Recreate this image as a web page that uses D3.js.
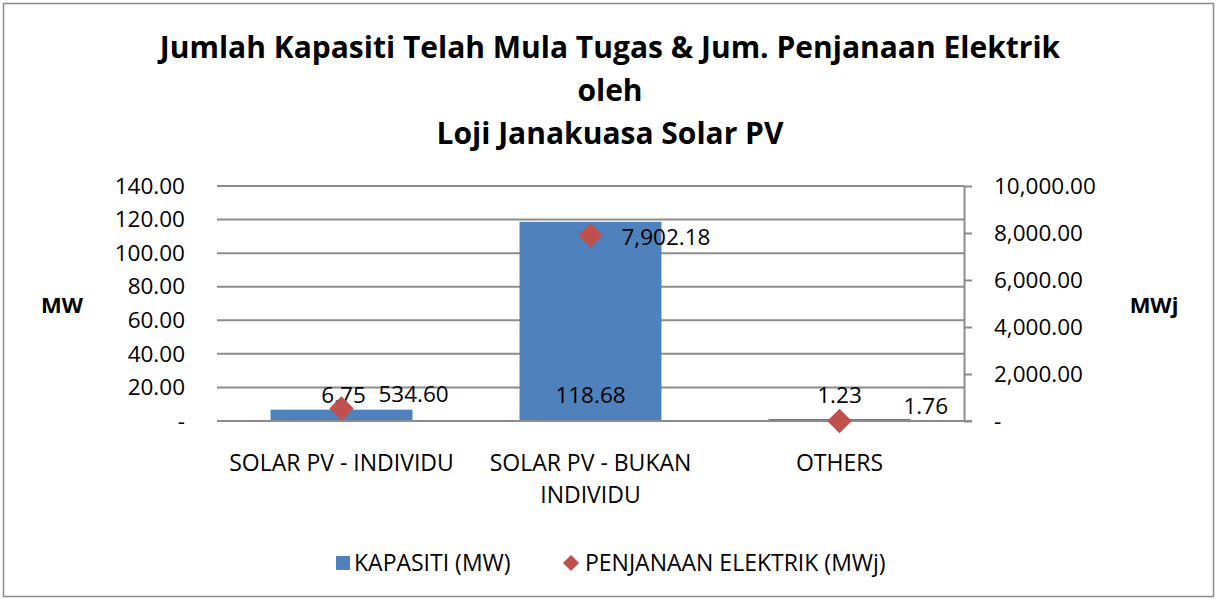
<!DOCTYPE html>
<html>
<head>
<meta charset="utf-8">
<script src="https://d3js.org/d3.v7.min.js"></script>
<style>
  body { margin: 0; background: #fff; }
  text { font-family: "Open Sans", sans-serif; fill: #000; }
</style>
</head>
<body>
<div id="chart"></div>
<script>
// data
var categories = ["SOLAR PV - INDIVIDU", "SOLAR PV - BUKAN INDIVIDU", "OTHERS"];
var categoryLines = [["SOLAR PV - INDIVIDU"], ["SOLAR PV - BUKAN", "INDIVIDU"], ["OTHERS"]];
var kapasiti = [6.75, 118.68, 1.23];
var penjanaan = [534.60, 7902.18, 1.76];
var leftTicks = [0, 20, 40, 60, 80, 100, 120, 140];
var rightTicks = [0, 2000, 4000, 6000, 8000, 10000];
var titleLines = ["Jumlah Kapasiti Telah Mula Tugas & Jum. Penjanaan Elektrik", "oleh", "Loji Janakuasa Solar PV"];
var seriesNames = ["KAPASITI (MW)", "PENJANAAN ELEKTRIK (MWj)"];

var W = 1217, H = 599;
var margin = { top: 186, right: 253, bottom: 178, left: 217 };
var width = W - margin.left - margin.right,
    height = H - margin.top - margin.bottom;

var svg = d3.select("#chart").append("svg")
    .attr("width", W).attr("height", H);

// outer border
svg.append("rect")
    .attr("x", 3.5).attr("y", 3.5)
    .attr("width", W - 7).attr("height", H - 6)
    .attr("fill", "#fff").attr("stroke", "#8c8c8c").attr("stroke-width", 1.5);

// title
svg.append("g").selectAll("text")
    .data(titleLines)
    .enter().append("text")
    .attr("x", 610)
    .attr("y", function (d, i) { return 58 + i * 43; })
    .attr("text-anchor", "middle")
    .style("font-size", "30px")
    .style("font-weight", "bold")
    .text(function (d) { return d; });

var g = svg.append("g")
    .attr("transform", "translate(" + margin.left + "," + margin.top + ")");

var x = d3.scaleBand().domain(categories).range([0, width]).paddingInner(0.43).paddingOuter(0.215);
var xc = d3.scaleBand().domain(categories).range([0, width]);
var yL = d3.scaleLinear().domain([0, 140]).range([height, 0]);
var yR = d3.scaleLinear().domain([0, 10000]).range([height, 0]);

var fmt2 = d3.format(",.2f");
var tickFmt = function (d) { return d === 0 ? "-" : fmt2(d); };

// gridlines
g.append("g").selectAll("line")
    .data(leftTicks.filter(function (d) { return d > 0; }))
    .enter().append("line")
    .attr("x1", 0).attr("x2", width)
    .attr("y1", function (d) { return yL(d); })
    .attr("y2", function (d) { return yL(d); })
    .attr("stroke", "#8c8c8c").attr("stroke-width", 2);

// left axis (labels only)
var leftAxis = g.append("g")
    .call(d3.axisLeft(yL).tickValues(leftTicks).tickFormat(tickFmt).tickSize(0).tickPadding(32));
leftAxis.select(".domain").remove();
leftAxis.selectAll("text").style("font-size", "22.5px").style("font-family", "Open Sans");

// right axis
var rightAxis = g.append("g")
    .attr("transform", "translate(" + width + ",0)")
    .call(d3.axisRight(yR).tickValues(rightTicks).tickFormat(tickFmt).tickSizeOuter(0).tickSizeInner(8).tickPadding(22));
rightAxis.select(".domain").attr("stroke", "#8c8c8c").attr("stroke-width", 2);
rightAxis.selectAll(".tick line").attr("stroke", "#8c8c8c").attr("stroke-width", 2);
rightAxis.selectAll("text").style("font-size", "22.5px").style("font-family", "Open Sans");

// bars
g.append("g").selectAll("rect")
    .data(kapasiti)
    .enter().append("rect")
    .attr("x", function (d, i) { return x(categories[i]); })
    .attr("width", x.bandwidth())
    .attr("y", function (d) { return yL(d); })
    .attr("height", function (d) { return yL(0) - yL(d); })
    .attr("fill", "#4f81bd");

// baseline
g.append("line")
    .attr("x1", 0).attr("x2", width + 8)
    .attr("y1", yL(0)).attr("y2", yL(0))
    .attr("stroke", "#8c8c8c").attr("stroke-width", 2);

// bar labels
g.append("g").selectAll("text")
    .data(kapasiti)
    .enter().append("text")
    .attr("x", function (d, i) { return xc(categories[i]) + xc.bandwidth() / 2 + (i === 0 ? 2 : 0); })
    .attr("y", yL(0) - 18)
    .attr("text-anchor", "middle")
    .style("font-size", "22.5px")
    .text(function (d) { return fmt2(d); });

// diamonds
var diamond = d3.symbol().type(d3.symbolSquare).size(300);
g.append("g").selectAll("path")
    .data(penjanaan)
    .enter().append("path")
    .attr("d", diamond)
    .attr("transform", function (d, i) {
        return "translate(" + (xc(categories[i]) + xc.bandwidth() / 2) + "," + yR(d) + ") rotate(45)";
    })
    .attr("fill", "#c0504d");

// diamond labels
var labelDx = [37, 31, 64];
var labelDy = [-6, 10, -7];
g.append("g").selectAll("text")
    .data(penjanaan)
    .enter().append("text")
    .attr("x", function (d, i) { return xc(categories[i]) + xc.bandwidth() / 2 + labelDx[i]; })
    .attr("y", function (d, i) { return yR(d) + labelDy[i]; })
    .style("font-size", "22.5px")
    .text(function (d) { return fmt2(d); });

// category labels
var cat = g.append("g").selectAll("text")
    .data(categoryLines)
    .enter().append("text")
    .attr("x", function (d, i) { return xc(categories[i]) + xc.bandwidth() / 2; })
    .attr("y", height + 50)
    .attr("text-anchor", "middle")
    .style("font-size", "23px");
cat.selectAll("tspan")
    .data(function (d) { return d; })
    .enter().append("tspan")
    .attr("x", function () { return d3.select(this.parentNode).attr("x"); })
    .attr("dy", function (d, i) { return i === 0 ? 0 : 32; })
    .text(function (d) { return d; });

// axis titles
svg.append("text")
    .attr("x", 62).attr("y", 313)
    .attr("text-anchor", "middle")
    .style("font-size", "22px").style("font-weight", "bold")
    .text("MW");
svg.append("text")
    .attr("x", 1154).attr("y", 313)
    .attr("text-anchor", "middle")
    .style("font-size", "22px").style("font-weight", "bold")
    .text("MWj");

// legend
var legend = svg.append("g").attr("transform", "translate(336,563)");
legend.append("rect")
    .attr("x", 0).attr("y", -7).attr("width", 14).attr("height", 14)
    .attr("fill", "#4f81bd");
legend.append("text")
    .attr("x", 18).attr("y", 8)
    .style("font-size", "23px")
    .text(seriesNames[0]);
legend.append("path")
    .attr("d", d3.symbol().type(d3.symbolSquare).size(130))
    .attr("transform", "translate(235,0) rotate(45)")
    .attr("fill", "#c0504d");
legend.append("text")
    .attr("x", 249).attr("y", 8)
    .style("font-size", "23px")
    .text(seriesNames[1]);
</script>
</body>
</html>
